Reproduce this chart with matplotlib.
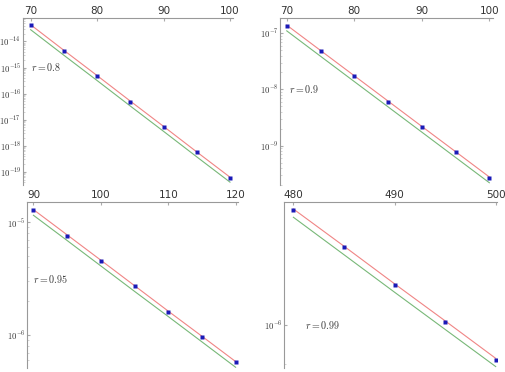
import matplotlib
matplotlib.use("Agg")
import matplotlib.pyplot as plt
from matplotlib.ticker import FuncFormatter, NullFormatter, FixedLocator
import numpy as np

plt.rcParams['mathtext.fontset'] = 'cm'

# r = 0.8
x1 = [70, 75, 80, 85, 90, 95, 100]
dots1 = [4.17e-14, 4.37e-15, 4.68e-16, 4.90e-17, 5.25e-18, 5.50e-19, 5.89e-20]
red1 = [4.37e-14, 4.57e-15, 4.90e-16, 5.13e-17, 5.50e-18, 5.75e-19, 6.17e-20]
green1 = [2.82e-14, 2.95e-15, 3.16e-16, 3.31e-17, 3.55e-18, 3.72e-19, 3.98e-20]

# r = 0.9
x2 = [70, 75, 80, 85, 90, 95, 100]
dots2 = [1.35e-7, 4.79e-8, 1.70e-8, 6.03e-9, 2.14e-9, 7.59e-10, 2.69e-10]
red2 = [1.39e-7, 4.93e-8, 1.75e-8, 6.21e-9, 2.20e-9, 7.82e-10, 2.77e-10]
green2 = [1.10e-7, 3.89e-8, 1.38e-8, 4.90e-9, 1.74e-9, 6.17e-10, 2.19e-10]

# r = 0.95
x3 = [90, 95, 100, 105, 110, 115, 120]
dots3 = [1.276e-5, 7.62e-6, 4.54e-6, 2.70e-6, 1.61e-6, 9.62e-7, 5.73e-7]
red3 = [1.295e-5, 7.73e-6, 4.61e-6, 2.74e-6, 1.63e-6, 9.76e-7, 5.82e-7]
green3 = [1.153e-5, 6.89e-6, 4.10e-6, 2.44e-6, 1.46e-6, 8.70e-7, 5.18e-7]

# r = 0.99
x4 = [480, 485, 490, 495, 500]
dots4 = [1.362e-6, 1.232e-6, 1.114e-6, 1.0076e-6, 9.11e-7]
red4 = [1.366e-6, 1.236e-6, 1.117e-6, 1.011e-6, 9.14e-7]
green4 = [1.336e-6, 1.208e-6, 1.092e-6, 0.988e-6, 8.94e-7]

W, H = 505, 372

panels = [
    # x, dots, red, green, r, xticks, (left, right, top, bottom px), xlim, ylim exps, text px
    (x1, dots1, red1, green1, '0.8', [70, 80, 90, 100],
     (22.7, 233.3, 18, 185), (68.8, 100.5), (-19.51, -13.1), (31, 67)),
    (x2, dots2, red2, green2, '0.9', [70, 80, 90, 100],
     (280, 492.7, 18, 185), (69.0, 100.5), (-9.70, -6.73), (289, 89)),
    (x3, dots3, red3, green3, '0.95', [90, 100, 110, 120],
     (26.7, 238.3, 202.3, 368.3), (89.0, 120.4), (-6.295, -4.823), (33, 279)),
    (x4, dots4, red4, green4, '0.99', [480, 490, 500],
     (284.3, 496.7, 201.7, 368.3), (479.1, 500.1), (-6.0507, -5.856), (305, 325)),
]

fig = plt.figure(figsize=(W / 100, H / 100), dpi=100)

def exp_fmt(v, pos):
    e = int(round(np.log10(v)))
    return r'$10^{%d}$' % e

for xs, d, r, g, lab, xt, box, xl, yl, tp in panels:
    l, rr, t, b = box
    ax = fig.add_axes([l / W, 1 - b / H, (rr - l) / W, (b - t) / H])
    ax.set_yscale('log')
    ax.plot(xs, r, color='#f08585', lw=0.8)
    ax.plot(xs, g, color='#78b878', lw=0.8)
    ax.plot(xs, d, 's', color='#1a1ab8', ms=2.2, mec='none')
    ax.set_xlim(*xl)
    ax.set_ylim(10 ** yl[0], 10 ** yl[1])

    for s in ['right', 'bottom']:
        ax.spines[s].set_visible(False)
    for s in ['left', 'top']:
        ax.spines[s].set_color('#999999')
        ax.spines[s].set_linewidth(0.8)

    # decades and minor ticks that fall inside the view only
    lo, hi = int(np.floor(yl[0])), int(np.ceil(yl[1]))
    major = [10.0 ** e for e in range(lo, hi + 1) if yl[0] <= e <= yl[1]]
    minor = [m * 10.0 ** e for e in range(lo, hi + 1) for m in range(2, 10)
             if yl[0] <= np.log10(m) + e <= yl[1]]

    ax.xaxis.set_major_locator(FixedLocator(xt))
    ax.xaxis.tick_top()
    ax.tick_params(axis='x', which='both', direction='in', length=2.5, color='#aaaaaa',
                   labelsize=7.5, labelcolor='#333333', pad=1.5)
    ax.yaxis.set_major_locator(FixedLocator(major))
    ax.yaxis.set_major_formatter(FuncFormatter(exp_fmt))
    ax.yaxis.set_minor_locator(FixedLocator(minor))
    ax.yaxis.set_minor_formatter(NullFormatter())
    ax.tick_params(axis='y', which='major', direction='in', length=2.5, color='#aaaaaa',
                   labelsize=6.3, labelcolor='#333333', pad=1)
    ax.tick_params(axis='y', which='minor', direction='in', length=1.5, color='#cccccc')
    ax.patch.set_visible(False)

    fig.text(tp[0] / W, 1 - tp[1] / H, r'$r=%s$' % lab,
             fontsize=7.2, color='#333333', ha='left', va='center')

fig.savefig('out.png', dpi=100, facecolor='white')
